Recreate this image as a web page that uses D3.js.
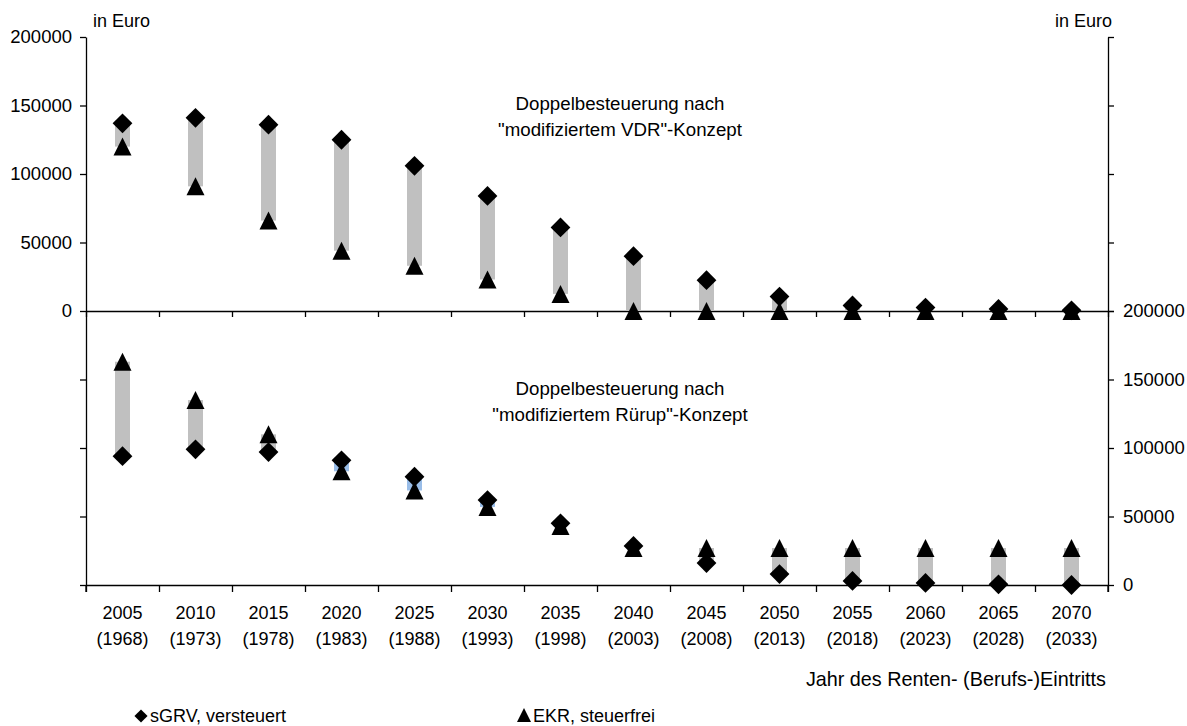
<!DOCTYPE html>
<html><head><meta charset="utf-8">
<script src="https://cdn.jsdelivr.net/npm/d3@7"></script>
<style>
body{margin:0;background:#fff;}
svg text{font-family:"Liberation Sans",Arial,Helvetica,sans-serif;fill:#000;}
</style></head>
<body><svg id="c" width="1187" height="726"></svg>
<script>
const years = ["2005","2010","2015","2020","2025","2030","2035","2040","2045","2050","2055","2060","2065","2070"];
const entryYears = ["(1968)","(1973)","(1978)","(1983)","(1988)","(1993)","(1998)","(2003)","(2008)","(2013)","(2018)","(2023)","(2028)","(2033)"];
// Top panel: "modifiziertes VDR"-Konzept
const vdrSGRV = [137000,141000,136000,125000,106000,84000,61000,40000,22500,10500,4000,2500,1500,500];
const vdrEKR  = [120000,91000,66000,44000,33000,23000,12500,0,0,0,0,0,0,0];
// Bottom panel: "modifiziertes Rürup"-Konzept
const rurSGRV = [94000,99000,97000,91000,79000,62000,45000,28500,16000,8000,3000,1500,500,0];
const rurEKR  = [163000,135000,110000,83000,69000,57000,43000,27000,27000,27000,27000,27000,27000,27000];
const yTicks = [0,50000,100000,150000,200000];
const titleTop = ["Doppelbesteuerung nach", "\"modifiziertem VDR\"-Konzept"];
const titleBot = ["Doppelbesteuerung nach", "\"modifiziertem Rürup\"-Konzept"];
const unitLabel = "in Euro";
const xTitle = "Jahr des Renten- (Berufs-)Eintritts";
const legendLabels = ["sGRV, versteuert", "EKR, steuerfrei"];

const svg = d3.select("#c");
const FS = 18;
const L = 86, R = 1108;
const x = d3.scaleBand().domain(years).range([L, R]).padding(0);
const xEdge = d3.scaleLinear().domain([0, years.length]).range([L, R]);
const yTop = d3.scaleLinear().domain([0,200000]).range([311,37]);
const yBot = d3.scaleLinear().domain([0,200000]).range([585,311]);

function styleAxis(g){
  g.selectAll("path,line").attr("stroke","#000").attr("stroke-width",1.3);
  g.selectAll("text").style("font-size","18.5px").attr("font-family",null);
}
// Left axes
svg.append("g").attr("transform",`translate(${L},0)`)
  .call(d3.axisLeft(yTop).tickValues(yTicks).tickFormat(d=>d).tickSize(6).tickPadding(8).tickSizeOuter(0))
  .call(styleAxis);
svg.append("g").attr("transform",`translate(${L},0)`)
  .call(d3.axisLeft(yBot).tickValues([0,50000,100000,150000]).tickFormat("").tickSize(6).tickSizeOuter(0))
  .call(styleAxis);
svg.append("line").attr("x1",L).attr("x2",L).attr("y1",yBot(0)).attr("y2",yBot(0)+7).attr("stroke","#000").attr("stroke-width",1.3);
// Right axes
svg.append("g").attr("transform",`translate(${R},0)`)
  .call(d3.axisRight(yTop).tickValues(yTicks).tickFormat("").tickSize(6).tickSizeOuter(0))
  .call(styleAxis);
svg.append("g").attr("transform",`translate(${R},0)`)
  .call(d3.axisRight(yBot).tickValues(yTicks).tickFormat(d=>d).tickSize(6).tickPadding(9).tickSizeOuter(0))
  .call(styleAxis);
svg.append("line").attr("x1",R).attr("x2",R).attr("y1",yBot(0)).attr("y2",yBot(0)+7).attr("stroke","#000").attr("stroke-width",1.3);
// X axes (category boundary ticks)
const edges = d3.range(0, years.length+1);
svg.append("g").attr("transform",`translate(0,${yTop(0)})`)
  .call(d3.axisBottom(xEdge).tickValues(edges).tickFormat("").tickSize(6).tickSizeOuter(0))
  .call(styleAxis);
svg.append("g").attr("transform",`translate(0,${yBot(0)})`)
  .call(d3.axisBottom(xEdge).tickValues(edges).tickFormat("").tickSize(7).tickSizeOuter(0))
  .call(styleAxis);

// category labels
const cat = svg.append("g");
years.forEach((yr,i)=>{
  const cx = x(yr) + x.bandwidth()/2;
  cat.append("text").attr("x",cx).attr("y",619).attr("text-anchor","middle").style("font-size",FS+"px").text(yr);
  cat.append("text").attr("x",cx).attr("y",645).attr("text-anchor","middle").style("font-size",FS+"px").text(entryYears[i]);
});

const barW = 15;
const grey = "#c0c0c0", blue = "#99bde8";
function panel(sg, ek, y, bottom){
  const g = svg.append("g");
  years.forEach((yr,i)=>{
    const cx = x(yr) + x.bandwidth()/2;
    const a = y(sg[i]), b = y(ek[i]);
    const col = bottom ? (ek[i] >= sg[i] ? grey : blue) : grey;
    g.append("rect").attr("x",cx-barW/2).attr("width",barW)
      .attr("y",Math.min(a,b)).attr("height",Math.abs(a-b)).attr("fill",col);
  });
  years.forEach((yr,i)=>{
    const cx = x(yr) + x.bandwidth()/2;
    g.append("path").attr("d",d3.symbol(d3.symbolDiamond2, 250)())
      .attr("transform",`translate(${cx},${y(sg[i])})`).attr("fill","#000");
  });
  years.forEach((yr,i)=>{
    const cx = x(yr) + x.bandwidth()/2;
    const cy = y(ek[i]);
    g.append("path").attr("d",`M${cx},${cy-9}L${cx+9},${cy+9}L${cx-9},${cy+9}Z`).attr("fill","#000");
  });
}
panel(vdrSGRV, vdrEKR, yTop, false);
panel(rurSGRV, rurEKR, yBot, true);

// titles
function title(lines, y0){
  lines.forEach((t,i)=>svg.append("text").attr("x",620).attr("y",y0+i*26).attr("text-anchor","middle").style("font-size","18.7px").text(t));
}
title(titleTop, 110);
title(titleBot, 395);

svg.append("text").attr("x",93).attr("y",27).style("font-size",FS+"px").text(unitLabel);
svg.append("text").attr("x",1112).attr("y",27).attr("text-anchor","end").style("font-size",FS+"px").text(unitLabel);
svg.append("text").attr("x",1106).attr("y",686).attr("text-anchor","end").style("font-size","19.8px").text(xTitle);

// legend
svg.append("path").attr("d",d3.symbol(d3.symbolDiamond2, 110)()).attr("transform","translate(141,716)").attr("fill","#000");
svg.append("text").attr("x",150).attr("y",722).style("font-size",FS+"px").text(legendLabels[0]);
svg.append("path").attr("d","M524,708L531,722L517,722Z").attr("fill","#000");
svg.append("text").attr("x",533).attr("y",722).style("font-size",FS+"px").text(legendLabels[1]);
</script></body></html>
